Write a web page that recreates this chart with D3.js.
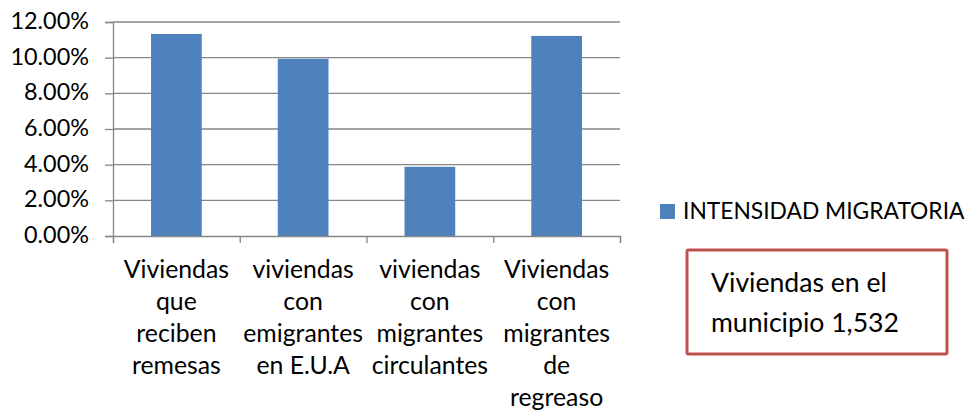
<!DOCTYPE html>
<html><head><meta charset="utf-8">
<script src="https://cdn.jsdelivr.net/npm/d3@7"></script>
<style>body{margin:0;background:#fff}svg{display:block}</style>
</head><body>
<script>
const categories = [
  ["Viviendas","que","reciben","remesas"],
  ["viviendas","con","emigrantes","en E.U.A"],
  ["viviendas","con","migrantes","circulantes"],
  ["Viviendas","con","migrantes","de","regreaso"]
];
const values = [0.1133, 0.0994, 0.0388, 0.1122];
const yTicks = [0, 0.02, 0.04, 0.06, 0.08, 0.10, 0.12];
const seriesName = "INTENSIDAD MIGRATORIA";
const noteLines = ["Viviendas en el", "municipio 1,532"];

const W = 966, H = 412;
const font = "Lato, 'Open Sans', sans-serif";
const svg = d3.select("body").append("svg").attr("width", W).attr("height", H);

const x0 = 113, x1 = 620, yTop = 22, yBot = 236;
const x = d3.scaleBand().domain(d3.range(categories.length)).range([x0, x1]).paddingInner(0.6).paddingOuter(0.3);
const y = d3.scaleLinear().domain([0, 0.12]).range([yBot, yTop]);

// gridlines
svg.append("g").selectAll("line").data(yTicks.filter(d => d > 0)).join("line")
  .attr("x1", x0).attr("x2", x1).attr("y1", d => y(d)).attr("y2", d => y(d))
  .attr("stroke", "#868686").attr("stroke-width", 1.3);

// y axis
const yAxis = svg.append("g").attr("transform", `translate(${x0},0)`)
  .call(d3.axisLeft(y).tickValues(yTicks).tickFormat(d3.format(".2%")).tickSize(8).tickPadding(16));
yAxis.select(".domain").attr("stroke", "#868686").attr("stroke-width", 1.3);
yAxis.selectAll(".tick line").attr("stroke", "#868686").attr("stroke-width", 1.3);
yAxis.selectAll("text").attr("font-family", font).attr("font-size", 23.4).attr("fill", "#000").attr("dy", "0.28em");

// bars
svg.append("g").selectAll("rect").data(values).join("rect")
  .attr("x", (d, i) => x(i)).attr("width", x.bandwidth())
  .attr("y", d => y(d)).attr("height", d => yBot - y(d))
  .attr("fill", "#4f81bd");

// x axis
const xb = d3.scaleLinear().domain([0, categories.length]).range([x0, x1]);
const xAxis = svg.append("g").attr("transform", `translate(0,${yBot})`)
  .call(d3.axisBottom(xb).tickValues(d3.range(categories.length + 1)).tickSize(7).tickFormat(""));
xAxis.select(".domain").attr("stroke", "#868686").attr("stroke-width", 1.3);
xAxis.selectAll(".tick line").attr("stroke", "#868686").attr("stroke-width", 1.3);

// category labels
const lab = svg.append("g").selectAll("text").data(categories).join("text")
  .attr("x", (d, i) => x(i) + x.bandwidth() / 2).attr("y", 278)
  .attr("text-anchor", "middle").attr("font-family", font).attr("font-size", 24.8).attr("fill", "#000");
lab.selectAll("tspan").data(d => d).join("tspan")
  .attr("x", function() { return d3.select(this.parentNode).attr("x"); })
  .attr("dy", (d, i) => i === 0 ? 0 : 32).text(d => d);

// legend
svg.append("rect").attr("x", 660).attr("y", 204).attr("width", 15).attr("height", 15).attr("fill", "#4f81bd");
svg.append("text").attr("x", 683).attr("y", 219).attr("font-family", font).attr("font-size", 22.8)
  .attr("fill", "#000").text(seriesName);

// note box
svg.append("rect").attr("x", 687).attr("y", 250).attr("width", 260).attr("height", 104)
  .attr("fill", "#fff").attr("stroke", "#c0504d").attr("stroke-width", 3).attr("rx", 1.5);
svg.append("g").selectAll("text").data(noteLines).join("text")
  .attr("x", 711).attr("y", (d, i) => 292 + i * 40)
  .attr("font-family", font).attr("font-size", 26.6).attr("fill", "#000").text(d => d);
</script>
</body></html>
